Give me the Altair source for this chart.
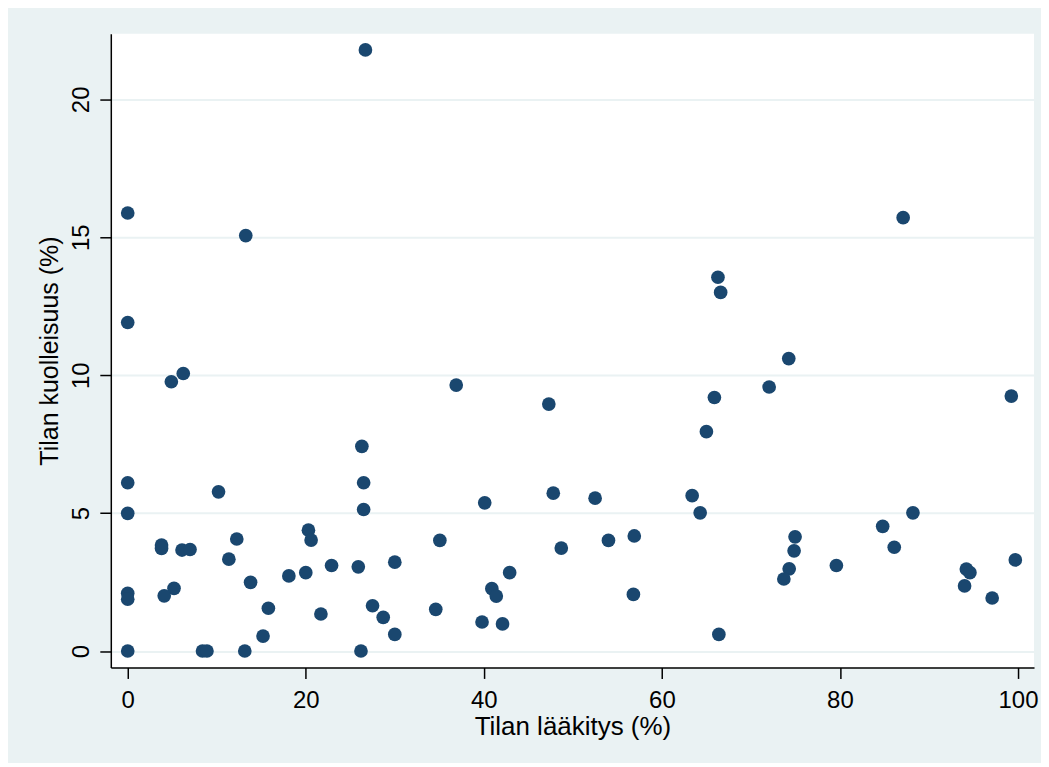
import altair as alt
import pandas as pd

# Tilan lääkitys (%) -- x values
laakitys = [
    0, 0, 0, 0, 0, 0, 0,
    4.9, 6.24, 10.2, 13.26, 26.7, 26.3, 26.5, 26.5,
    3.8, 3.8, 6.1, 7.0, 12.25, 11.36, 20.3, 20.6, 22.9, 25.9, 30.0, 35.06,
    13.8, 18.1, 20.0, 5.2, 4.1, 15.8, 27.5, 28.7, 34.6, 21.7, 15.2, 30.0,
    8.4, 8.9, 13.15, 26.2,
    36.9, 47.3, 65.9, 65.0, 40.1, 47.8, 52.5, 63.4, 64.3,
    48.7, 54.0, 56.9, 42.9, 40.9, 41.4, 56.8, 39.8, 42.1, 66.4,
    74.25, 72.05, 99.25, 88.2, 84.8, 86.1, 74.96, 74.85, 74.3, 73.7, 79.6,
    94.2, 94.6, 94.0, 97.1, 99.7, 87.1, 66.3, 66.6,
]

# Tilan kuolleisuus (%) -- y values
kuolleisuus = [
    15.88, 11.91, 6.1, 4.99, 2.09, 1.88, 0,
    9.76, 10.06, 5.77, 15.06, 21.79, 7.42, 6.1, 5.13,
    3.84, 3.72, 3.66, 3.68, 4.06, 3.33, 4.38, 4.02, 3.10, 3.05, 3.22, 4.01,
    2.49, 2.72, 2.84, 2.27, 2.0, 1.55, 1.64, 1.22, 1.51, 1.34, 0.54, 0.60,
    0, 0, 0, 0,
    9.64, 8.95, 9.19, 7.95, 5.37, 5.72, 5.54, 5.63, 5.01,
    3.73, 4.01, 4.17, 2.84, 2.26, 1.99, 2.05, 1.05, 0.98, 0.60,
    10.6, 9.57, 9.24, 5.01, 4.52, 3.76, 4.14, 3.63, 2.98, 2.61, 3.10,
    2.97, 2.84, 2.36, 1.92, 3.30, 15.71, 13.55, 13.0,
]

x_ticks = [0, 20, 40, 60, 80, 100]
y_ticks = [0, 5, 10, 15, 20]

df = pd.DataFrame({"x": laakitys, "y": kuolleisuus})

FONT = "Liberation Sans"
BG = "#EAF2F3"

chart = (
    alt.Chart(df)
    .mark_circle(size=188, opacity=1, color="#1A476F")
    .encode(
        x=alt.X(
            "x:Q",
            scale=alt.Scale(domain=[-1.9, 101.8], nice=False, zero=False),
            axis=alt.Axis(
                values=x_ticks,
                grid=False,
                title="Tilan lääkitys (%)",
                titleFont=FONT,
                titleFontSize=26,
                titleFontWeight="normal",
                titleColor="black",
                titleBaseline="alphabetic",
                titleY=67,
                labelFont=FONT,
                labelFontSize=24,
                labelColor="black",
                labelBaseline="alphabetic",
                labelPadding=29,
                tickSize=11,
                tickWidth=1.5,
                tickColor="black",
                domainColor="black",
                domainWidth=1.5,
                labelFlush=False,
            ),
        ),
        y=alt.Y(
            "y:Q",
            scale=alt.Scale(domain=[-0.597, 22.38], nice=False, zero=False),
            axis=alt.Axis(
                values=y_ticks,
                grid=True,
                gridColor=BG,
                gridWidth=2,
                title="Tilan kuolleisuus (%)",
                titleFont=FONT,
                titleFontSize=25,
                titleFontWeight="normal",
                titleColor="black",
                titleAngle=270,
                titleBaseline="alphabetic",
                titleAlign="center",
                titleX=-53,
                labelFont=FONT,
                labelFontSize=24,
                labelColor="black",
                labelAngle=270,
                labelAlign="center",
                labelBaseline="alphabetic",
                labelPadding=11,
                tickSize=11,
                tickWidth=1.5,
                tickColor="black",
                domainColor="black",
                domainWidth=1.5,
                labelFlush=False,
            ),
        ),
    )
    .properties(
        width=925,
        height=635,
        background=BG,
        padding={"left": 103, "top": 25, "right": 7, "bottom": 95},
        autosize=alt.AutoSizeParams(type="none"),
    )
    .configure_view(fill="white", stroke=None)
)

chart.save("out.html", embed_options={"renderer": "svg", "actions": False})
